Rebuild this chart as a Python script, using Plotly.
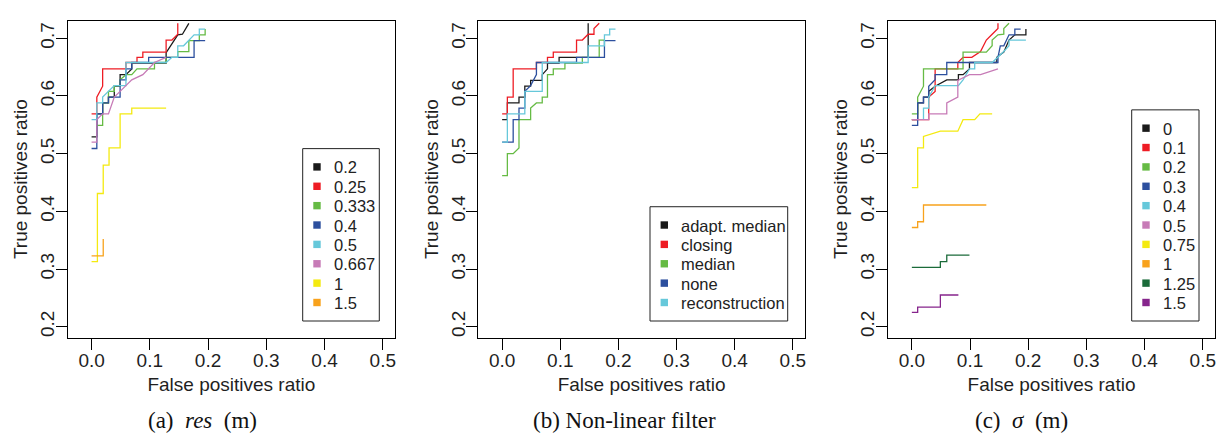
import plotly.graph_objects as go

# ---------------- data (false positives ratio, true positives ratio) ----------------
# (a) res (m)
res_labels = ["0.2", "0.25", "0.333", "0.4", "0.5", "0.667", "1", "1.5"]
res_0_2_fpr = [0, 0.009, 0.009, 0.019, 0.019, 0.029, 0.029, 0.039, 0.039, 0.049, 0.049, 0.059, 0.069, 0.069, 0.128, 0.128, 0.148, 0.156, 0.167]
res_0_2_tpr = [0.529, 0.529, 0.569, 0.569, 0.588, 0.588, 0.598, 0.598, 0.617, 0.617, 0.637, 0.637, 0.647, 0.657, 0.657, 0.675, 0.706, 0.707, 0.726]
res_0_25_fpr = [0, 0.009, 0.009, 0.019, 0.019, 0.059, 0.059, 0.078, 0.078, 0.088, 0.088, 0.128, 0.128, 0.138, 0.148, 0.148]
res_0_25_tpr = [0.569, 0.569, 0.598, 0.617, 0.647, 0.647, 0.658, 0.658, 0.667, 0.667, 0.676, 0.676, 0.697, 0.697, 0.707, 0.726]
res_0_333_fpr = [0.009, 0.019, 0.019, 0.029, 0.029, 0.039, 0.039, 0.049, 0.049, 0.059, 0.069, 0.078, 0.108, 0.108, 0.128, 0.128, 0.148, 0.148, 0.167, 0.167, 0.185, 0.185, 0.195, 0.195]
res_0_333_tpr = [0.549, 0.549, 0.588, 0.588, 0.608, 0.608, 0.618, 0.618, 0.628, 0.637, 0.637, 0.647, 0.647, 0.658, 0.658, 0.667, 0.667, 0.677, 0.677, 0.696, 0.696, 0.706, 0.706, 0.716]
res_0_4_fpr = [0, 0.009, 0.009, 0.019, 0.019, 0.029, 0.029, 0.049, 0.049, 0.059, 0.059, 0.069, 0.069, 0.098, 0.098, 0.176, 0.176, 0.195]
res_0_4_tpr = [0.509, 0.509, 0.569, 0.569, 0.588, 0.588, 0.598, 0.598, 0.628, 0.628, 0.647, 0.647, 0.658, 0.658, 0.667, 0.667, 0.696, 0.696]
res_0_5_fpr = [0, 0.009, 0.009, 0.019, 0.019, 0.029, 0.039, 0.059, 0.059, 0.128, 0.138, 0.148, 0.148, 0.158, 0.176, 0.185, 0.185, 0.195]
res_0_5_tpr = [0.559, 0.559, 0.588, 0.588, 0.598, 0.608, 0.618, 0.618, 0.658, 0.658, 0.667, 0.667, 0.687, 0.687, 0.706, 0.706, 0.716, 0.716]
res_0_667_fpr = [0, 0.009, 0.009, 0.019, 0.029, 0.039, 0.049, 0.059, 0.069, 0.088, 0.098, 0.108, 0.128]
res_0_667_tpr = [0.520, 0.520, 0.559, 0.569, 0.569, 0.598, 0.608, 0.618, 0.628, 0.637, 0.647, 0.658, 0.667]
res_1_fpr = [0, 0.010, 0.010, 0.020, 0.020, 0.030, 0.030, 0.049, 0.049, 0.069, 0.069, 0.128]
res_1_tpr = [0.313, 0.313, 0.431, 0.431, 0.480, 0.480, 0.510, 0.510, 0.569, 0.569, 0.579, 0.579]
res_1_5_fpr = [0, 0.020, 0.020]
res_1_5_tpr = [0.323, 0.323, 0.352]

# (b) Non-linear filter
filter_labels = ["adapt. median", "closing", "median", "none", "reconstruction"]
adapt_median_fpr = [0, 0.009, 0.009, 0.029, 0.029, 0.039, 0.039, 0.049, 0.049, 0.069, 0.069, 0.078, 0.078, 0.098, 0.098, 0.148, 0.148]
adapt_median_tpr = [0.559, 0.559, 0.588, 0.588, 0.598, 0.598, 0.617, 0.617, 0.627, 0.627, 0.637, 0.647, 0.657, 0.657, 0.667, 0.667, 0.726]
closing_fpr = [0, 0.009, 0.009, 0.019, 0.019, 0.059, 0.059, 0.078, 0.078, 0.088, 0.088, 0.128, 0.128, 0.138, 0.148, 0.158, 0.158, 0.167]
closing_tpr = [0.569, 0.569, 0.598, 0.598, 0.647, 0.647, 0.658, 0.658, 0.667, 0.667, 0.676, 0.676, 0.697, 0.697, 0.707, 0.707, 0.717, 0.726]
median_fpr = [0, 0.009, 0.009, 0.019, 0.029, 0.029, 0.049, 0.049, 0.059, 0.069, 0.069, 0.078, 0.078, 0.088, 0.088, 0.108, 0.108, 0.138, 0.138, 0.167, 0.167, 0.176]
median_tpr = [0.462, 0.462, 0.500, 0.500, 0.510, 0.559, 0.559, 0.579, 0.588, 0.588, 0.598, 0.598, 0.637, 0.637, 0.647, 0.647, 0.657, 0.657, 0.667, 0.667, 0.697, 0.697]
none_fpr = [0, 0.019, 0.019, 0.029, 0.029, 0.039, 0.039, 0.049, 0.059, 0.059, 0.128, 0.128, 0.176, 0.176, 0.195]
none_tpr = [0.520, 0.520, 0.559, 0.559, 0.579, 0.579, 0.608, 0.618, 0.637, 0.658, 0.658, 0.667, 0.667, 0.696, 0.696]
reconstruction_fpr = [0, 0.009, 0.009, 0.039, 0.039, 0.069, 0.069, 0.148, 0.148, 0.176, 0.176, 0.185, 0.185, 0.195]
reconstruction_tpr = [0.520, 0.520, 0.569, 0.569, 0.608, 0.608, 0.658, 0.658, 0.687, 0.687, 0.706, 0.706, 0.716, 0.716]

# (c) sigma (m)
sigma_labels = ["0", "0.1", "0.2", "0.3", "0.4", "0.5", "0.75", "1", "1.25", "1.5"]
sig_0_fpr = [0, 0.010, 0.010, 0.020, 0.020, 0.029, 0.029, 0.040, 0.060, 0.080, 0.080, 0.088, 0.099, 0.099, 0.146, 0.146, 0.158, 0.167, 0.177, 0.196, 0.196]
sig_0_tpr = [0.559, 0.559, 0.588, 0.588, 0.598, 0.598, 0.608, 0.617, 0.628, 0.628, 0.637, 0.637, 0.647, 0.658, 0.658, 0.667, 0.676, 0.697, 0.706, 0.706, 0.716]
sig_0_1_fpr = [0, 0.029, 0.029, 0.040, 0.040, 0.040, 0.079, 0.079, 0.088, 0.103, 0.118, 0.128, 0.138, 0.148, 0.148]
sig_0_1_tpr = [0.559, 0.559, 0.598, 0.608, 0.618, 0.647, 0.647, 0.658, 0.667, 0.667, 0.677, 0.697, 0.707, 0.717, 0.726]
sig_0_2_fpr = [0, 0.010, 0.010, 0.020, 0.020, 0.088, 0.088, 0.128, 0.138, 0.138, 0.148, 0.158, 0.158, 0.167]
sig_0_2_tpr = [0.569, 0.569, 0.598, 0.617, 0.647, 0.647, 0.676, 0.676, 0.687, 0.697, 0.706, 0.707, 0.717, 0.726]
sig_0_3_fpr = [0, 0.010, 0.010, 0.020, 0.020, 0.029, 0.029, 0.040, 0.040, 0.060, 0.060, 0.148, 0.148, 0.152, 0.158, 0.167, 0.177, 0.177, 0.187]
sig_0_3_tpr = [0.549, 0.549, 0.588, 0.588, 0.598, 0.598, 0.617, 0.628, 0.637, 0.637, 0.658, 0.658, 0.667, 0.687, 0.687, 0.706, 0.706, 0.716, 0.716]
sig_0_4_fpr = [0.020, 0.020, 0.029, 0.029, 0.040, 0.080, 0.088, 0.099, 0.108, 0.108, 0.138, 0.148, 0.158, 0.167, 0.167, 0.196]
sig_0_4_tpr = [0.559, 0.579, 0.579, 0.598, 0.618, 0.618, 0.628, 0.647, 0.647, 0.658, 0.658, 0.667, 0.677, 0.687, 0.697, 0.697]
sig_0_5_fpr = [0, 0.029, 0.029, 0.060, 0.060, 0.079, 0.079, 0.099, 0.118, 0.148]
sig_0_5_tpr = [0.559, 0.559, 0.569, 0.569, 0.588, 0.598, 0.627, 0.637, 0.637, 0.647]
sig_0_75_fpr = [0, 0.010, 0.010, 0.020, 0.020, 0.049, 0.079, 0.088, 0.108, 0.117, 0.138]
sig_0_75_tpr = [0.441, 0.441, 0.510, 0.510, 0.530, 0.539, 0.539, 0.559, 0.559, 0.569, 0.569]
sig_1_fpr = [0, 0.010, 0.010, 0.020, 0.020, 0.128]
sig_1_tpr = [0.372, 0.372, 0.382, 0.382, 0.411, 0.411]
sig_1_25_fpr = [0, 0.049, 0.049, 0.060, 0.060, 0.099]
sig_1_25_tpr = [0.303, 0.303, 0.313, 0.313, 0.324, 0.324]
sig_1_5_fpr = [0, 0.010, 0.010, 0.049, 0.049, 0.080]
sig_1_5_tpr = [0.225, 0.225, 0.234, 0.234, 0.255, 0.255]

x_ticks = [0.0, 0.1, 0.2, 0.3, 0.4, 0.5]
y_ticks = [0.2, 0.3, 0.4, 0.5, 0.6, 0.7]
captions = ["(a)&nbsp;&nbsp;<i>res</i>&nbsp;&nbsp;(m)", "(b)&nbsp;Non-linear filter", "(c)&nbsp;&nbsp;<i>σ</i>&nbsp;&nbsp;(m)"]

# ---------------- styling ----------------
BLACK, RED, GREEN, BLUE, CYAN = "#1a1a1a", "#ee1c24", "#66bb44", "#2c4f9e", "#66c8da"
PINK, YELLOW, ORANGE, DGREEN, PURPLE = "#c77bb7", "#f4ea10", "#f8a21c", "#1b6b3a", "#86258c"

panels = [
    dict(labels=res_labels,
         colors=[BLACK, RED, GREEN, BLUE, CYAN, PINK, YELLOW, ORANGE],
         data=[(res_0_2_fpr, res_0_2_tpr), (res_0_25_fpr, res_0_25_tpr), (res_0_333_fpr, res_0_333_tpr),
               (res_0_4_fpr, res_0_4_tpr), (res_0_5_fpr, res_0_5_tpr), (res_0_667_fpr, res_0_667_tpr),
               (res_1_fpr, res_1_tpr), (res_1_5_fpr, res_1_5_tpr)],
         box=(67.7, 395.0), legend=(302.7, 379.3), cap_x=202),
    dict(labels=filter_labels,
         colors=[BLACK, RED, GREEN, BLUE, CYAN],
         data=[(adapt_median_fpr, adapt_median_tpr), (closing_fpr, closing_tpr), (median_fpr, median_tpr),
               (none_fpr, none_tpr), (reconstruction_fpr, reconstruction_tpr)],
         box=(478.3, 805.0), legend=(650.0, 787.7), cap_x=624),
    dict(labels=sigma_labels,
         colors=[BLACK, RED, GREEN, BLUE, CYAN, PINK, YELLOW, ORANGE, DGREEN, PURPLE],
         data=[(sig_0_fpr, sig_0_tpr), (sig_0_1_fpr, sig_0_1_tpr), (sig_0_2_fpr, sig_0_2_tpr),
               (sig_0_3_fpr, sig_0_3_tpr), (sig_0_4_fpr, sig_0_4_tpr), (sig_0_5_fpr, sig_0_5_tpr),
               (sig_0_75_fpr, sig_0_75_tpr), (sig_1_fpr, sig_1_tpr), (sig_1_25_fpr, sig_1_25_tpr),
               (sig_1_5_fpr, sig_1_5_tpr)],
         box=(888.0, 1215.0), legend=(1131.7, 1199.0), cap_x=1022),
]

W, H = 1227, 436
BOX_TOP, BOX_BOTTOM = 20.7, 337.7
SANS = "Liberation Sans, Arial, Helvetica, sans-serif"
SERIF = "Liberation Serif, Times New Roman, serif"
TXT = "#1f1f1f"

def px(x):
    return x / W

def py(y):
    return 1 - y / H

fig = go.Figure()
layout = dict(width=W, height=H, margin=dict(l=0, r=0, t=0, b=0),
              paper_bgcolor="white", plot_bgcolor="white", showlegend=False,
              font=dict(family=SANS, size=19, color=TXT))
shapes, annotations = [], []

for i, p in enumerate(panels):
    sfx = "" if i == 0 else str(i + 1)
    xa, ya = "x" + sfx, "y" + sfx
    for lab, col, (fx, ty) in zip(p["labels"], p["colors"], p["data"]):
        fig.add_trace(go.Scatter(x=fx, y=ty, mode="lines", name=lab,
                                 line=dict(color=col, width=1.3), xaxis=xa, yaxis=ya,
                                 hoverinfo="name+x+y"))
    l, r = p["box"]
    layout["xaxis" + sfx] = dict(
        domain=[px(l), px(r)], anchor=ya, range=[-0.041, 0.521],
        tickmode="array", tickvals=x_ticks, ticktext=[f"{v:.1f}" for v in x_ticks],
        showline=True, mirror=True, linecolor="black", linewidth=1,
        ticks="outside", ticklen=11, tickcolor="black", tickwidth=1,
        showgrid=False, zeroline=False, automargin=False,
        tickfont=dict(size=19, color=TXT), ticklabelstandoff=-6,
        title=dict(text="False positives ratio", font=dict(size=19, color=TXT), standoff=8))
    layout["yaxis" + sfx] = dict(
        domain=[py(BOX_BOTTOM), py(BOX_TOP)], anchor=xa, range=[0.181, 0.7305],
        tickmode="array", tickvals=y_ticks, ticktext=[f"{v:.1f}" for v in y_ticks],
        tickangle=-90,
        showline=True, mirror=True, linecolor="black", linewidth=1,
        ticks="outside", ticklen=11, tickcolor="black", tickwidth=1,
        showgrid=False, zeroline=False, automargin=False,
        tickfont=dict(size=19, color=TXT), ticklabelstandoff=-6,
        title=dict(text="True positives ratio", font=dict(size=19, color=TXT), standoff=4))

    # legend box (R style: filled squares)
    ll, lr = p["legend"]
    n = len(p["labels"])
    step = 19.37
    last_c = 302.5
    first_c = last_c - (n - 1) * step
    top = first_c - 18.3
    shapes.append(dict(type="rect", xref="paper", yref="paper",
                       x0=px(ll), x1=px(lr), y0=py(321.0), y1=py(top),
                       line=dict(color="#222222", width=1), fillcolor="white", layer="above"))
    for k, (lab, col) in enumerate(zip(p["labels"], p["colors"])):
        cy = first_c + k * step
        shapes.append(dict(type="rect", xref="paper", yref="paper",
                           x0=px(ll + 10.6), x1=px(ll + 18.0), y0=py(cy + 3.7), y1=py(cy - 3.7),
                           line=dict(width=0), fillcolor=col, layer="above"))
        annotations.append(dict(text=lab, xref="paper", yref="paper", x=px(ll + 29.0), y=py(cy + 0.5),
                                xanchor="left", yanchor="middle", showarrow=False,
                                font=dict(family=SANS, size=16.5, color="#222222")))
    annotations.append(dict(text=captions[i], xref="paper", yref="paper", x=px(p["cap_x"]), y=py(420),
                            xanchor="center", yanchor="middle", showarrow=False,
                            font=dict(family=SERIF, size=23, color="#111111")))

layout["shapes"] = shapes
layout["annotations"] = annotations
fig.update_layout(**layout)
fig.write_html("out.html", config={"displayModeBar": False},
               post_script="document.body.style.margin='0';document.body.style.padding='0';")
